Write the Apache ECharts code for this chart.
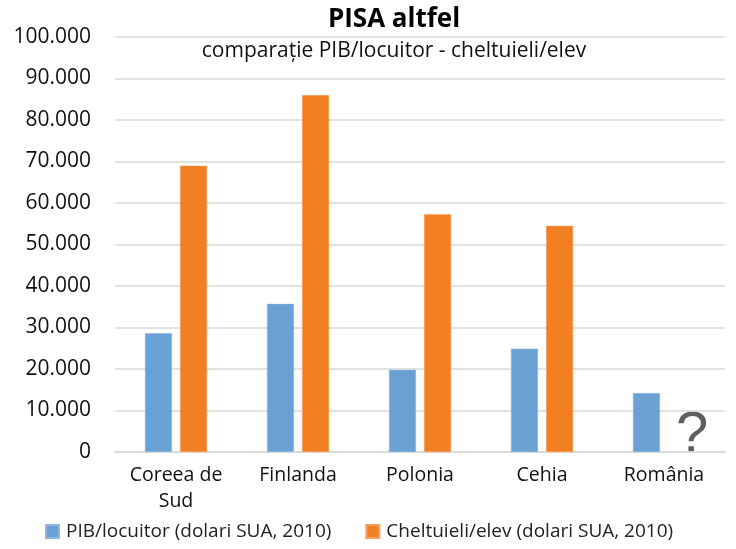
<!DOCTYPE html>
<html><head><meta charset="utf-8">
<script src="https://cdn.jsdelivr.net/npm/echarts@6/dist/echarts.min.js"></script>
<style>html,body{margin:0;padding:0;background:#fff}#c{width:736px;height:549px}</style>
</head><body><div id="c"></div>
<script>
const categories = ['Coreea de\nSud', 'Finlanda', 'Polonia', 'Cehia', 'România'];
const pibLocuitor = [28600, 35700, 19800, 24900, 14200];
const cheltuieliElev = [69000, 86000, 57300, 54500, null];
const seriesNames = ['PIB/locuitor (dolari SUA, 2010)', 'Cheltuieli/elev (dolari SUA, 2010)'];
const FONT = 'Open Sans';
const chart = echarts.init(document.getElementById('c'), null, {renderer: 'canvas'});
chart.setOption({
  animation: false,
  backgroundColor: '#fff',
  title: {
    text: 'PISA altfel',
    subtext: 'comparație PIB/locuitor - cheltuieli/elev',
    left: 389, textAlign: 'center', top: 2, itemGap: 8,
    textStyle: {fontFamily: FONT, fontWeight: 'bold', fontSize: 26, color: '#000'},
    subtextStyle: {fontFamily: FONT, fontSize: 21, color: '#111'}
  },
  legend: {
    bottom: 3, left: 40, itemWidth: 13, itemHeight: 13, itemGap: 34,
    icon: 'rect',
    textStyle: {fontFamily: FONT, fontSize: 19, color: '#222', padding: [0, 0, 0, 2]},
    data: seriesNames
  },
  grid: {left: 115, right: 11, top: 37, bottom: 97, containLabel: false},
  xAxis: {
    type: 'category', data: categories,
    axisLine: {lineStyle: {color: '#d9d9d9', width: 1.5}},
    axisTick: {show: false},
    axisLabel: {interval: 0, fontFamily: FONT, fontSize: 19.5, color: '#111', margin: 10, lineHeight: 26}
  },
  yAxis: {
    type: 'value', min: 0, max: 100000, interval: 10000,
    axisLine: {show: false}, axisTick: {show: false},
    splitLine: {lineStyle: {color: '#d9d9d9', width: 1.5}},
    axisLabel: {
      fontFamily: FONT, fontSize: 21, color: '#111', margin: 24,
      formatter: v => v === 0 ? '0' : String(v).replace(/\B(?=(\d{3})+(?!\d))/g, '.')
    }
  },
  series: [
    {name: seriesNames[0], type: 'bar', data: pibLocuitor, barWidth: 27, barGap: '30%',
     itemStyle: {color: '#6aa1d4', borderColor: '#8fb8e0', borderWidth: 0.5}},
    {name: seriesNames[1], type: 'bar', data: cheltuieliElev, barWidth: 27,
     itemStyle: {color: '#f28023', borderColor: '#f5a060', borderWidth: 0.5}}
  ],
  graphic: [{
    type: 'text',
    style: {x: 676, y: 465, verticalAlign: 'bottom', text: '?', fontFamily: 'Liberation Sans', fontSize: 58, fill: '#5f5f5f'}
  }]
});
</script></body></html>
